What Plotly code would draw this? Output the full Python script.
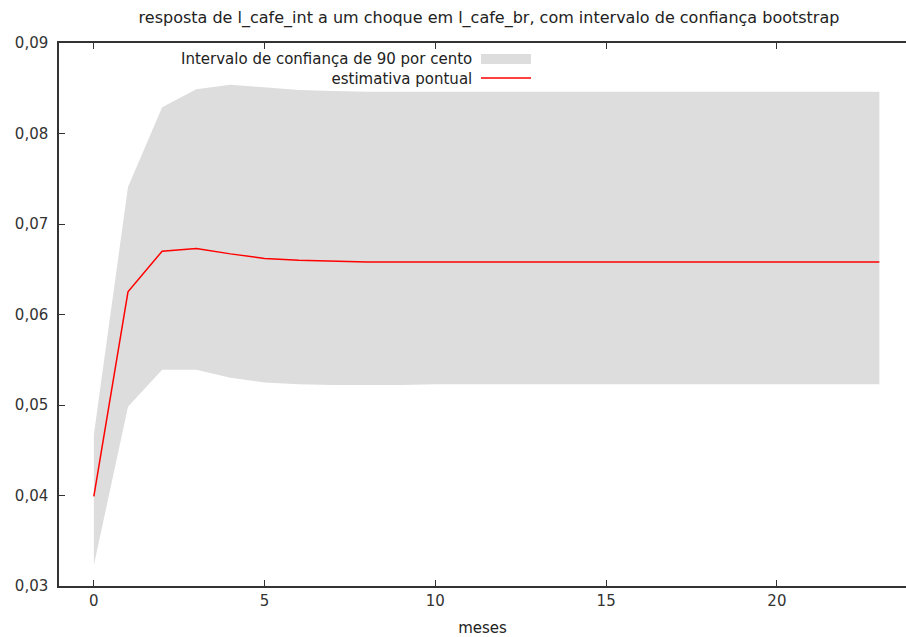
import plotly.graph_objects as go

meses = list(range(24))
estimativa = [0.0399, 0.0625, 0.0670, 0.0673, 0.0667, 0.0662, 0.0660, 0.0659, 0.0658, 0.0658,
              0.0658, 0.0658, 0.0658, 0.0658, 0.0658, 0.0658, 0.0658, 0.0658, 0.0658, 0.0658,
              0.0658, 0.0658, 0.0658, 0.0658]
superior = [0.0467, 0.0741, 0.0829, 0.0849, 0.0854, 0.0851, 0.0848, 0.0847, 0.0846, 0.0846,
            0.0846, 0.0846, 0.0846, 0.0846, 0.0846, 0.0846, 0.0846, 0.0846, 0.0846, 0.0846,
            0.0846, 0.0846, 0.0846, 0.0846]
inferior = [0.0323, 0.0498, 0.0539, 0.0539, 0.0530, 0.0525, 0.0523, 0.0522, 0.0522, 0.0522,
            0.0523, 0.0523, 0.0523, 0.0523, 0.0523, 0.0523, 0.0523, 0.0523, 0.0523, 0.0523,
            0.0523, 0.0523, 0.0523, 0.0523]

y_ticks = [0.03, 0.04, 0.05, 0.06, 0.07, 0.08, 0.09]
y_labels = ["0,03", "0,04", "0,05", "0,06", "0,07", "0,08", "0,09"]
x_ticks = [0, 5, 10, 15, 20]
legenda = ["Intervalo de confiança de 90 por cento", "estimativa pontual"]

FONT = "DejaVu Sans"
FS = 15
GRAY = "#dddddd"
L, R, T, B = 59, 906, 43, 586
PW, PH = R - L, B - T


def px(x):
    return (x - L) / PW


def py(y):
    return (B - y) / PH


fig = go.Figure()
fig.add_trace(go.Scatter(x=meses + meses[::-1], y=superior + inferior[::-1],
                         fill="toself", fillcolor=GRAY, line=dict(width=0),
                         mode="lines", hoverinfo="skip", showlegend=False))
fig.add_trace(go.Scatter(x=meses, y=estimativa, mode="lines",
                         line=dict(color="#ff0000", width=1.5), showlegend=False))

# gnuplot-style legend (text then swatch), one right-aligned text block
fig.add_annotation(xref="paper", yref="paper", x=px(474), y=py(68.5),
                   text="<br>".join(legenda), showarrow=False, align="right",
                   xanchor="right", yanchor="middle", font=dict(family=FONT, size=FS, color="#222"))
fig.add_shape(type="rect", xref="paper", yref="paper",
              x0=px(481), x1=px(531), y0=py(64), y1=py(54),
              fillcolor=GRAY, line=dict(width=0))
fig.add_shape(type="line", xref="paper", yref="paper",
              x0=px(481), x1=px(531), y0=py(78), y1=py(78),
              line=dict(color="#ff0000", width=1.5))

fig.update_layout(
    width=906, height=637,
    margin=dict(l=L, r=906 - R, t=T, b=637 - B),
    paper_bgcolor="white", plot_bgcolor="white",
    font=dict(family=FONT, size=FS, color="#333"),
    title=dict(text="resposta de l_cafe_int a um choque em l_cafe_br, com intervalo de confiança bootstrap",
               x=489 / 906, xanchor="center", y=1 - 17 / 637, yanchor="middle",
               font=dict(family=FONT, size=16, color="#222")),
    xaxis=dict(range=[-1.02, 23.78], tickvals=x_ticks, ticks="inside", ticklen=6,
               tickcolor="#333", showline=True, linecolor="#333", linewidth=1.5,
               mirror="ticks", showgrid=False, zeroline=False, automargin=False,
               title=dict(text="meses", font=dict(family=FONT, size=FS, color="#222")),
               tickfont=dict(family=FONT, size=FS, color="#333")),
    yaxis=dict(range=[0.03, 0.09], tickvals=y_ticks, ticktext=y_labels, ticks="inside",
               ticklen=6, tickcolor="#333", showline=True, linecolor="#333", linewidth=1.5,
               showgrid=False, zeroline=False, automargin=False, ticklabelstandoff=6,
               tickfont=dict(family=FONT, size=FS, color="#333")),
)

fig.write_html("out.html")
